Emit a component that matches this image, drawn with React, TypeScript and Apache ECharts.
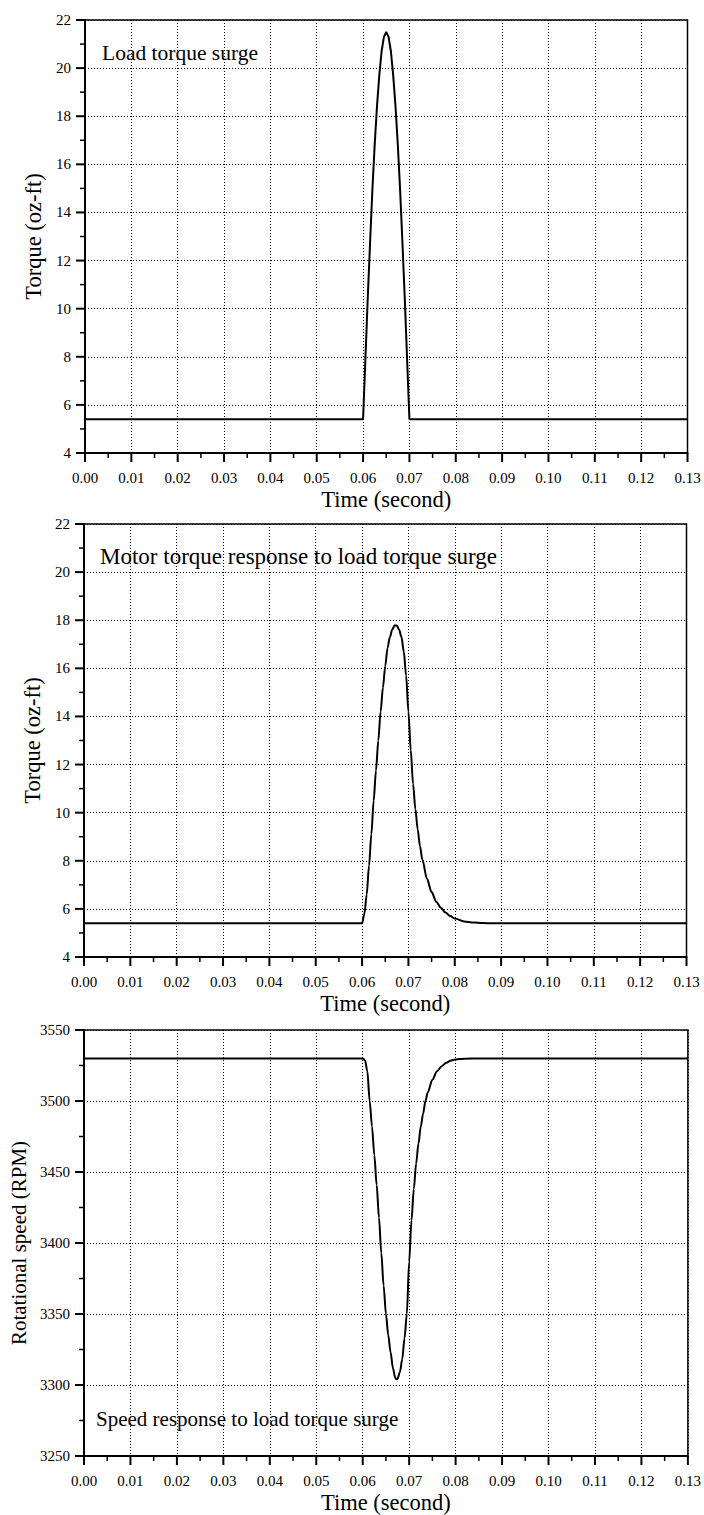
import React, { useEffect, useRef } from "react";
import * as echarts from "echarts";

// ---------- data ----------
const loadTime = [0, 0.06, 0.0605, 0.061, 0.0615, 0.062, 0.0625, 0.063, 0.0635, 0.064, 0.0645, 0.065, 0.0655, 0.066, 0.0665, 0.067, 0.0675, 0.068, 0.0685, 0.069, 0.0695, 0.07, 0.13];
const loadTorque = [5.4, 5.4, 7.9, 10.4, 12.7, 14.9, 16.8, 18.4, 19.7, 20.7, 21.3, 21.5, 21.3, 20.7, 19.7, 18.4, 16.8, 14.9, 12.7, 10.4, 7.9, 5.4, 5.4];

const motorTime = [0, 0.06, 0.0605, 0.061, 0.0615, 0.062, 0.0625, 0.063, 0.0635, 0.064, 0.0645, 0.065, 0.0655, 0.066, 0.0665, 0.067, 0.0675, 0.068, 0.0685, 0.069, 0.0695, 0.07, 0.0705, 0.071, 0.0715, 0.072, 0.0725, 0.073, 0.074, 0.075, 0.076, 0.077, 0.078, 0.079, 0.08, 0.082, 0.084, 0.086, 0.088, 0.13];
const motorTorque = [5.4, 5.4, 5.8, 6.6, 7.8, 9.1, 10.5, 11.75, 13.0, 14.2, 15.2, 16.1, 16.85, 17.3, 17.6, 17.78, 17.78, 17.6, 17.3, 16.7, 15.7, 14.2, 12.6, 11.2, 10.15, 9.3, 8.6, 8.05, 7.25, 6.7, 6.3, 6.05, 5.85, 5.7, 5.6, 5.48, 5.43, 5.41, 5.4, 5.4];

const speedTime = [0, 0.06, 0.0605, 0.061, 0.0615, 0.062, 0.0625, 0.063, 0.0635, 0.064, 0.0645, 0.065, 0.0655, 0.066, 0.0665, 0.067, 0.0673, 0.0675, 0.068, 0.0685, 0.069, 0.0695, 0.07, 0.0705, 0.071, 0.0715, 0.072, 0.0725, 0.073, 0.0735, 0.074, 0.075, 0.076, 0.077, 0.078, 0.079, 0.08, 0.082, 0.085, 0.13];
const speedRpm = [3530, 3530, 3528.5, 3521, 3500, 3482, 3462, 3441, 3418, 3393, 3370, 3350, 3335, 3323, 3312, 3305, 3304, 3304.5, 3309, 3318, 3333, 3350, 3387, 3416, 3438, 3456, 3470, 3482, 3491, 3500, 3506, 3515, 3521, 3524.5, 3527, 3528.5, 3529.2, 3529.8, 3530, 3530];

const panelNotes = ["Load torque surge", "Motor torque response to load torque surge", "Speed response to load torque surge"];
const yTitles = ["Torque (oz-ft)", "Torque (oz-ft)", "Rotational speed (RPM)"];
const xTitle = "Time (second)";

const xMin = 0, xMax = 0.13, xStep = 0.01;
const torqueMin = 4, torqueMax = 22, torqueStep = 2;
const speedMin = 3250, speedMax = 3550, speedStep = 50;

const FONT = "Liberation Serif";

const zip = (a: number[], b: number[]) => a.map((t, i) => [t, b[i]]);

// tick positions (major every step, minor halfway between)
const tickValues = (min: number, max: number, step: number) => {
  const out: number[][] = [];
  const n = Math.round((max - min) / step);
  for (let k = 0; k <= n; k++) {
    out.push([+(min + k * step).toFixed(6), 1]);
    if (k < n) out.push([+(min + (k + 0.5) * step).toFixed(6), 0]);
  }
  return out;
};

export default function App() {
  const ref = useRef<HTMLDivElement>(null);
  useEffect(() => {
    document.body.style.margin = "0";
    const chart = echarts.init(ref.current!, null, { renderer: "svg" });

    const grids = [
      { left: 85, top: 20, width: 602.5, height: 433 },
      { left: 84, top: 524, width: 602.5, height: 433 },
      { left: 84, top: 1030, width: 605.5, height: 430 },
    ];
    const yGaps = [37, 37, 55];
    const yTitleSizes = [22.5, 22.5, 21];
    const yRanges = [
      [torqueMin, torqueMax, torqueStep],
      [torqueMin, torqueMax, torqueStep],
      [speedMin, speedMax, speedStep],
    ];

    const xAxisFor = (i: number) => ({
      type: "value",
      gridIndex: i,
      position: "bottom",
      min: xMin,
      max: xMax,
      interval: xStep,
      name: xTitle,
      nameLocation: "middle",
      nameGap: 35,
      nameTextStyle: { fontFamily: FONT, fontSize: 22.5, color: "#000" },
      axisLine: { show: true, onZero: false, lineStyle: { color: "#000", width: 2 } },
      axisTick: { show: false },
      minorTick: { show: false },
      axisLabel: { fontFamily: FONT, fontSize: 15, color: "#000", margin: 17, formatter: (v: number) => v.toFixed(2) },
      splitLine: { show: true, lineStyle: { color: "#000", width: 1, type: [1, 2] } },
    });

    const yAxisFor = (i: number) => ({
      type: "value",
      gridIndex: i,
      position: "left",
      min: yRanges[i][0],
      max: yRanges[i][1],
      interval: yRanges[i][2],
      name: yTitles[i],
      nameLocation: "middle",
      nameGap: yGaps[i],
      nameTextStyle: { fontFamily: FONT, fontSize: yTitleSizes[i], color: "#000" },
      axisLine: { show: true, onZero: false, lineStyle: { color: "#000", width: 2 } },
      axisTick: { show: false },
      minorTick: { show: false },
      axisLabel: { fontFamily: FONT, fontSize: 15, color: "#000", margin: 14, formatter: (v: number) => String(v) },
      splitLine: { show: true, lineStyle: { color: "#000", width: 1, type: [1, 2] } },
    });

    const lineSeries = (i: number, data: number[][], smooth: number | boolean) => ({
      type: "line",
      xAxisIndex: i,
      yAxisIndex: i,
      data,
      showSymbol: false,
      symbol: "none",
      smooth,
      smoothMonotone: "x",
      lineStyle: { color: "#000", width: 2 },
      clip: true,
      z: 3,
    });

    // outward ticks on the bottom axis, drawn through the axis scale
    const xTickSeries = (i: number) => ({
      type: "custom",
      xAxisIndex: i,
      yAxisIndex: i,
      clip: false,
      silent: true,
      z: 4,
      data: tickValues(xMin, xMax, xStep).map(([v, m]) => [v, yRanges[i][0], m]),
      encode: { x: 0, y: 1 },
      renderItem: (_p: any, api: any) => {
        const pt = api.coord([api.value(0), api.value(1)]);
        const len = api.value(2) ? 9 : 5;
        return {
          type: "line",
          shape: { x1: pt[0], y1: pt[1], x2: pt[0], y2: pt[1] + len },
          style: { stroke: "#000", lineWidth: api.value(2) ? 2 : 1.5 },
        };
      },
    });

    // outward ticks on the left axis
    const yTickSeries = (i: number) => ({
      type: "custom",
      xAxisIndex: i,
      yAxisIndex: i,
      clip: false,
      silent: true,
      z: 4,
      data: tickValues(yRanges[i][0], yRanges[i][1], yRanges[i][2]).map(([v, m]) => [xMin, v, m]),
      encode: { x: 0, y: 1 },
      renderItem: (_p: any, api: any) => {
        const pt = api.coord([api.value(0), api.value(1)]);
        const len = api.value(2) ? 9 : 5;
        return {
          type: "line",
          shape: { x1: pt[0], y1: pt[1], x2: pt[0] - len, y2: pt[1] },
          style: { stroke: "#000", lineWidth: api.value(2) ? 2 : 1.5 },
        };
      },
    });

    const noteY = [53, 556, 1419];
    const noteX = [102, 100, 96];
    const noteSizes = [21.5, 23, 21];

    chart.setOption({
      animation: false,
      backgroundColor: "#fff",
      grid: grids.map((g) => ({ ...g, show: true, borderColor: "#000", borderWidth: 1.5, backgroundColor: "transparent" })),
      xAxis: [xAxisFor(0), xAxisFor(1), xAxisFor(2)],
      yAxis: [yAxisFor(0), yAxisFor(1), yAxisFor(2)],
      series: [
        lineSeries(0, zip(loadTime, loadTorque), false),
        lineSeries(1, zip(motorTime, motorTorque), 0.3),
        lineSeries(2, zip(speedTime, speedRpm), 0.3),
        xTickSeries(0), xTickSeries(1), xTickSeries(2),
        yTickSeries(0), yTickSeries(1), yTickSeries(2),
      ],
      graphic: panelNotes.map((t, i) => ({
        type: "text",
        x: noteX[i],
        y: noteY[i],
        z: 100,
        style: { text: t, fontFamily: FONT, fontSize: noteSizes[i], fill: "#000", align: "left", verticalAlign: "middle" },
      })),
    });
    return () => chart.dispose();
  }, []);
  return <div ref={ref} style={{ width: 704, height: 1515 }} />;
}
